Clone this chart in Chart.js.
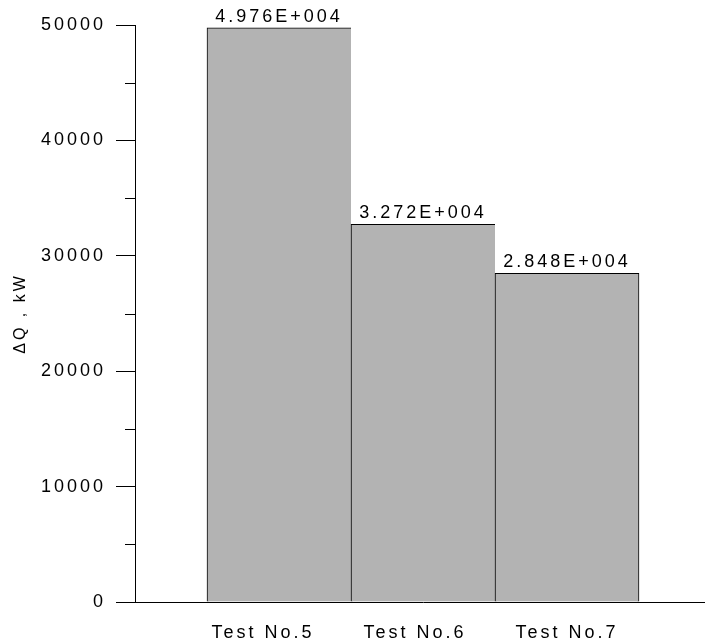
<!DOCTYPE html>
<html>
<head>
<meta charset="utf-8">
<script src="https://cdn.jsdelivr.net/npm/chart.js@4/dist/chart.umd.min.js"></script>
<style>
  html, body { margin: 0; padding: 0; background: #fff; overflow: hidden; }
  #wrap { width: 711px; height: 638px; }
</style>
</head>
<body>
<div id="wrap"><canvas id="c" width="711" height="638"></canvas></div>
<script>
// Heat-load difference per test run
const categories = ['Test No.5', 'Test No.6', 'Test No.7'];
const deltaQ = [49760, 32720, 28480];
const yMin = 0;
const yMax = 50000;
const yMajorStep = 10000;
const yMinorStep = 5000;
const yTitle = 'ΔQ , kW';

// Trailing blanks nudge each category caption a little to the left
const captionPad = [4, 2, 0];

// Empty slots on each side keep the bars centred between the axis and the right edge
const labels = [''].concat(categories, ['']);
const values = [null].concat(deltaQ, [null]);

const FONT = 'Liberation Sans, Arial, Helvetica, sans-serif';
const SPACING = '3px';

function sci(v) {
  const [m, e] = v.toExponential(3).split('e');
  const sign = e[0] === '-' ? '-' : '+';
  const digits = e.replace(/^[+-]/, '').padStart(3, '0');
  return m + 'E' + sign + digits;
}

const spacingPlugin = {
  id: 'spacing',
  beforeDraw(chart) { chart.ctx.letterSpacing = SPACING; }
};

const minorTicks = {
  id: 'minorTicks',
  afterDraw(chart) {
    const s = chart.scales.y;
    const ctx = chart.ctx;
    ctx.save();
    ctx.strokeStyle = '#000';
    ctx.lineWidth = 1;
    ctx.beginPath();
    for (let v = yMin; v <= yMax; v += yMinorStep) {
      if (v % yMajorStep === 0) continue;
      const y = Math.round(s.getPixelForValue(v)) + 0.5;
      ctx.moveTo(s.right - 10, y);
      ctx.lineTo(s.right, y);
    }
    ctx.stroke();
    ctx.restore();
  }
};

const valueLabels = {
  id: 'valueLabels',
  afterDatasetsDraw(chart) {
    const ctx = chart.ctx;
    const meta = chart.getDatasetMeta(0);
    ctx.save();
    ctx.letterSpacing = SPACING;
    ctx.font = '18px ' + FONT;
    ctx.fillStyle = '#000';
    ctx.textAlign = 'center';
    ctx.textBaseline = 'alphabetic';
    meta.data.forEach((bar, i) => {
      const v = values[i];
      if (v === null) return;
      ctx.fillText(sci(v), bar.x, bar.y - 6);
    });
    ctx.restore();
  }
};

new Chart(document.getElementById('c'), {
  type: 'bar',
  data: {
    labels: labels,
    datasets: [{
      data: values,
      backgroundColor: '#b3b3b3',
      borderColor: '#000',
      borderWidth: (c) => ({ top: 1, left: 1, bottom: 0, right: c.dataIndex === values.length - 2 ? 1 : 0 }),
      borderSkipped: false,
      barPercentage: 1,
      categoryPercentage: 1
    }]
  },
  options: {
    responsive: false,
    animation: false,
    devicePixelRatio: 1,
    layout: { padding: { top: 25, left: 0, right: 0, bottom: 0 } },
    plugins: { legend: { display: false }, tooltip: { enabled: false } },
    scales: {
      x: {
        type: 'category',
        offset: false,
        grid: { display: false },
        border: { display: true, color: '#000', width: 1 },
        ticks: {
          color: '#000',
          font: { family: FONT, size: 18 },
          padding: 12,
          autoSkip: false,
          maxRotation: 0,
          callback(v, i) {
            const text = this.getLabelForValue(v);
            const pad = captionPad[i - 1] || 0;
            return text ? text + ' '.repeat(pad) : '';
          }
        },
        afterFit(scale) {
          scale.height = 36;
          scale.paddingLeft = 0;
          scale.paddingRight = 0;
        }
      },
      y: {
        min: yMin,
        max: yMax,
        grid: {
          drawOnChartArea: false,
          drawTicks: true,
          tickLength: 19,
          tickColor: (c) => (c.tick && c.tick.value % yMajorStep === 0) ? '#000' : 'rgba(0,0,0,0)'
        },
        border: { display: true, color: '#000', width: 1 },
        ticks: {
          stepSize: yMinorStep,
          autoSkip: false,
          color: '#000',
          font: { family: FONT, size: 18 },
          padding: 10,
          callback: (v) => (v % yMajorStep === 0 ? String(v) : '')
        },
        title: {
          display: true,
          text: yTitle,
          color: '#000',
          font: { family: FONT, size: 16 },
          padding: { top: 11, bottom: 0 }
        },
        afterFit(scale) { scale.width = 135; }
      }
    }
  },
  plugins: [spacingPlugin, minorTicks, valueLabels]
});
</script>
</body>
</html>
